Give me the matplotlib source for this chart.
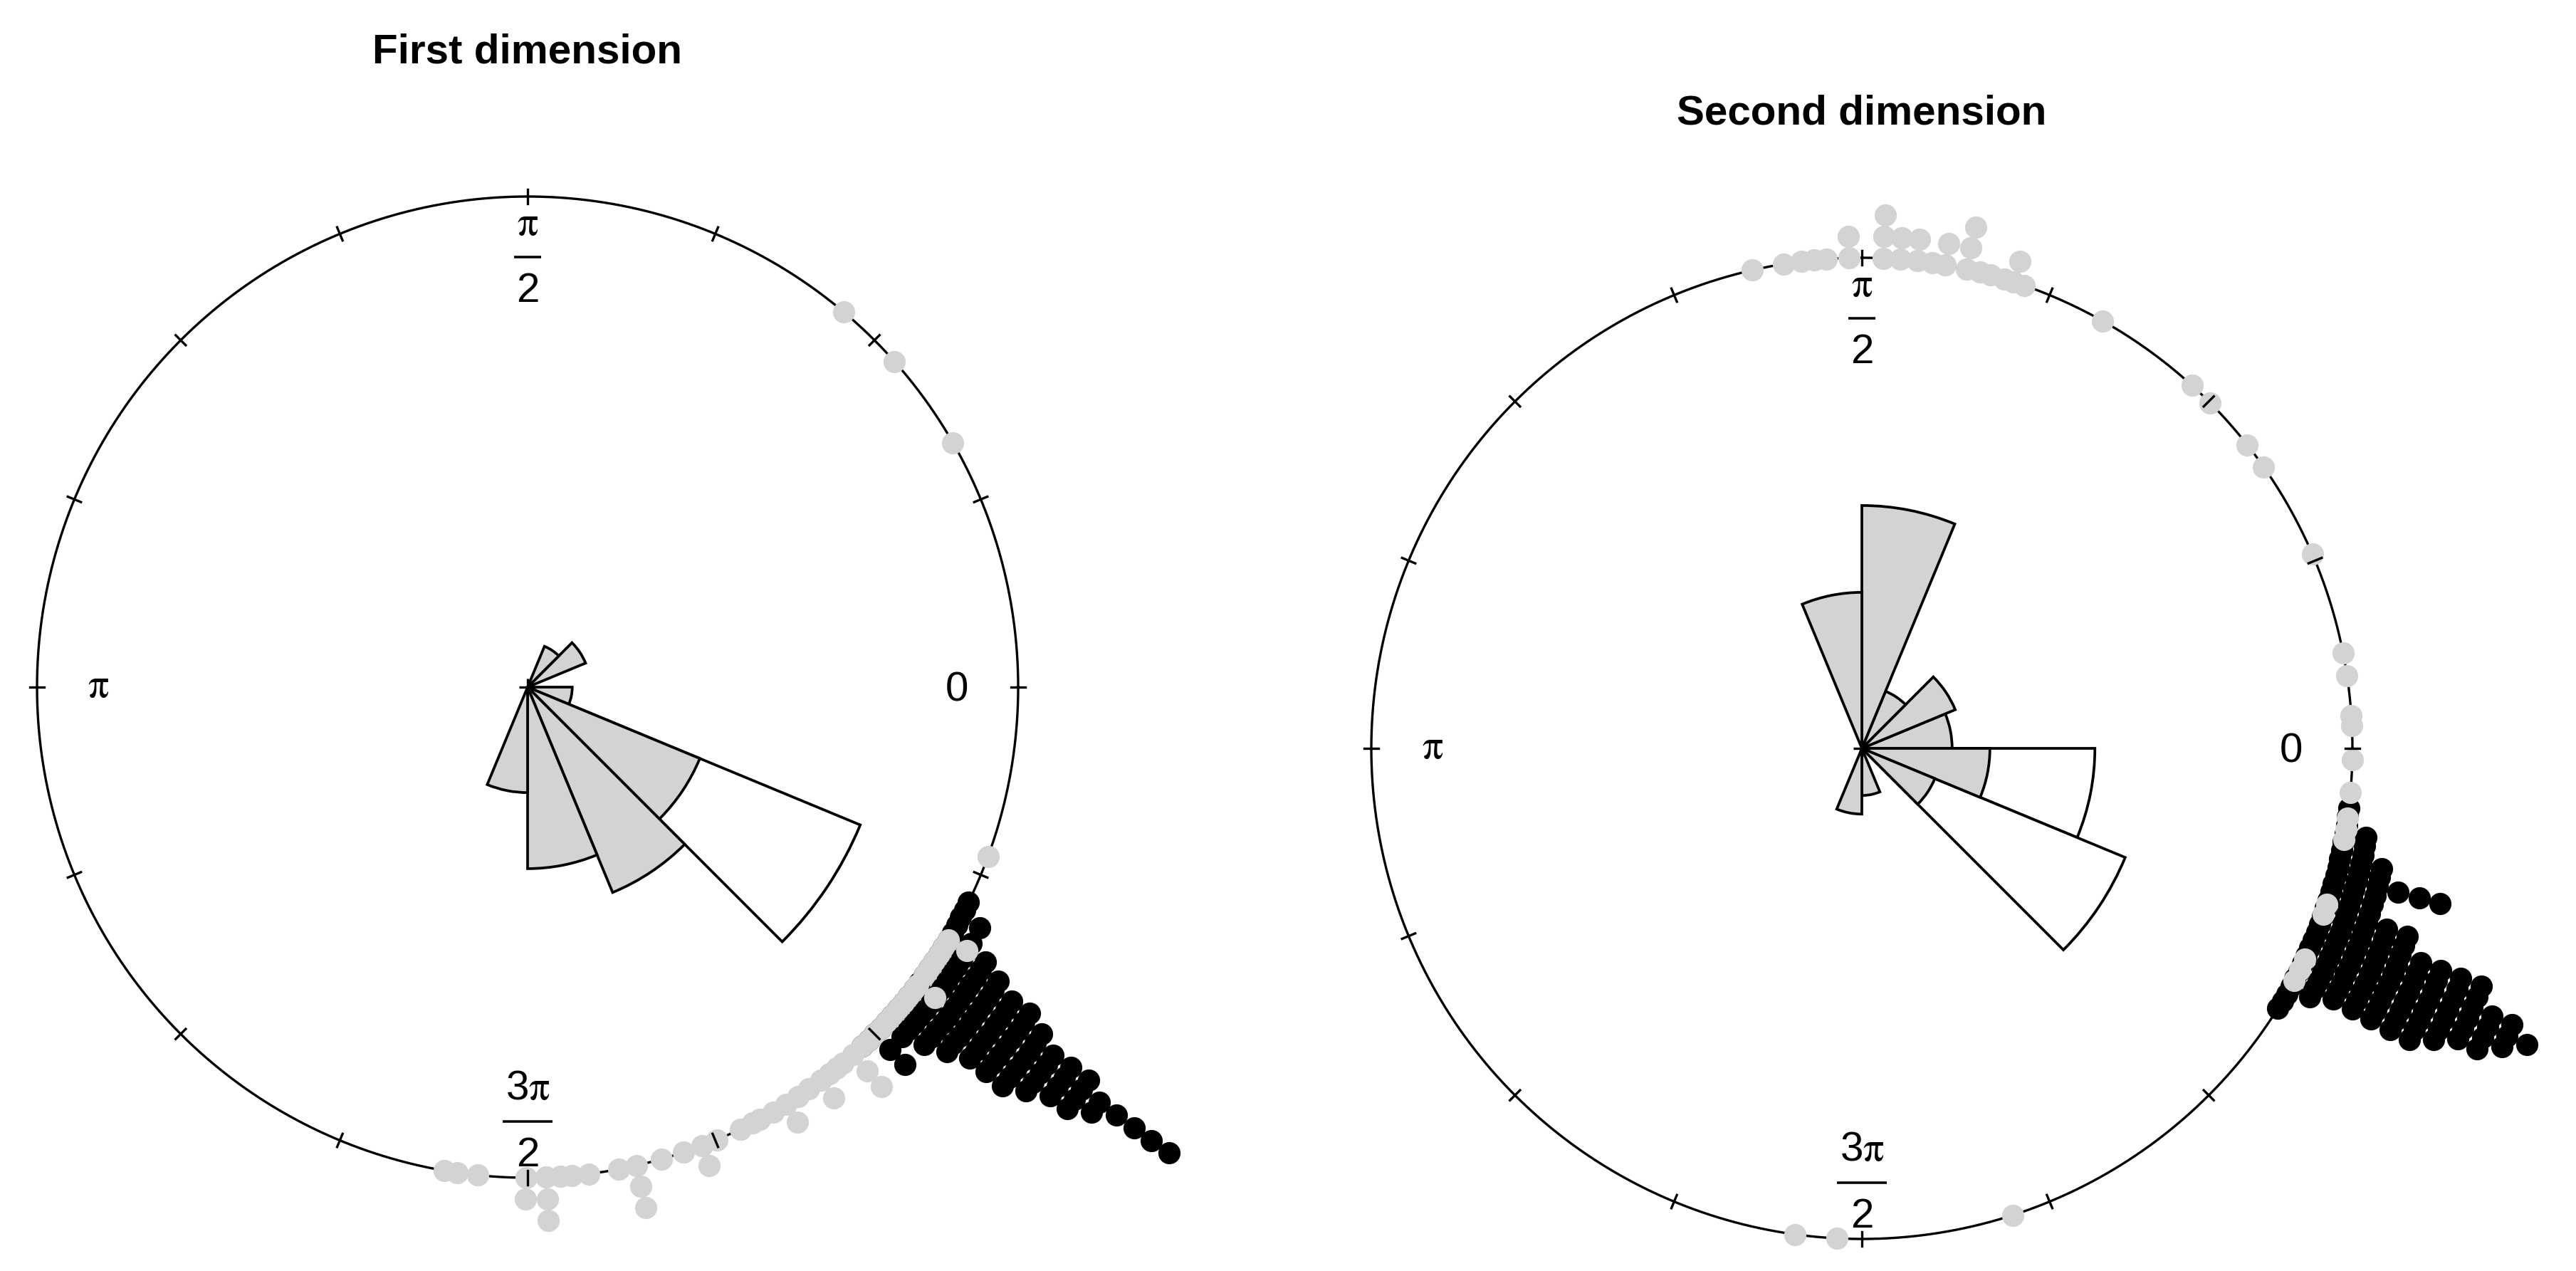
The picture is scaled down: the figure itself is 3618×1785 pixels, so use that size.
import numpy as np
import matplotlib.pyplot as plt
from matplotlib.patches import Wedge

plt.rcParams['font.family'] = ['Liberation Sans', 'DejaVu Sans']
plt.rcParams['mathtext.fontset'] = 'stix'

W, H, DPI = 3618, 1785, 300
R_PX = 689                      # circle radius in pixels
CENTERS = [(741, 965), (2615, 1051)]

titles = ["First dimension", "Second dimension"]

# rose diagrams: lower edge (deg) of each 22.5 degree sector and its radius
rose1_gray_start = [-22.5, -45, -67.5, -90, -112.5, 22.5, 45]
rose1_gray_r = [0.091, 0.380, 0.453, 0.370, 0.215, 0.128, 0.090]
rose1_white_start = [-45]
rose1_white_r = [0.734]

rose2_gray_start = [0, 22.5, 45, 67.5, 90, -22.5, -45, -90, -112.5]
rose2_gray_r = [0.184, 0.206, 0.126, 0.495, 0.318, 0.261, 0.161, 0.096, 0.134]
rose2_white_start = [-22.5, -45]
rose2_white_r = [0.475, 0.581]

# stacked points: angle (deg) and how many points are stacked there
black1_deg = [-26, -27, -28, -29, -30, -31, -32, -33, -34, -35, -36, -37,
              -38, -39, -40, -41, -42, -43, -44, -45, -46, -47]
black1_n = [1, 1, 2, 1, 2, 3, 4, 6, 7, 10, 15, 11, 10, 8, 7, 4, 3, 2, 1, 3, 1, 1]

gray1_deg = [49.9, 41.6, 29.9, -20.2, -31, -32, -33, -34, -35, -36, -37.3,
             -38, -39, -40, -41, -42, -43, -44, -45, -46, -47, -48.5, -50,
             -51, -52, -53.3, -55, -56.5, -58.2, -60, -61.8, -62.7, -64.3,
             -67.3, -69.2, -71.5, -74.2, -77.2, -79.3, -82.8, -84.8, -86.2,
             -87.8, -90.2, -95.8, -98.3, -99.8]
gray1_n = [1, 1, 1, 1, 2, 1, 1, 1, 1, 1, 2, 1, 1, 1, 1, 1, 1, 1, 1, 1, 1, 3,
           1, 1, 1, 2, 1, 1, 2, 1, 1, 1, 1, 1, 2, 1, 1, 3, 1, 1, 1, 1, 3, 2,
           1, 1, 1]

black2_deg = [-7, -8, -9, -10, -11, -12, -13, -14, -15, -16, -17, -18, -19,
              -20, -21, -22, -23, -24, -25, -26, -27, -28, -29, -30, -31, -32]
black2_n = [1, 1, 1, 2, 2, 2, 3, 3, 6, 3, 3, 3, 5, 5, 9, 9, 11, 12, 11, 10,
            8, 7, 2, 1, 1, 1]

gray2_deg = [102.9, 99.2, 97.1, 95.6, 94.2, 91.5, 87.5, 85.5, 83.5, 81.7,
             80.2, 77.7, 76.1, 74.8, 73.1, 72.0, 70.7, 60.6, 47.7, 44.8,
             38.2, 35.0, 23.3, 11.2, 8.5, 3.8, 2.7, -1.3, -5.2, -8.2, -9.5,
             -10.7, -18.5, -19.8, -25.4, -26.8, -28.2, -72.1, -92.9, -97.8]
gray2_n = [1, 1, 1, 1, 1, 2, 3, 2, 2, 1, 2, 3, 1, 1, 1, 2, 1, 1, 1, 1, 1, 1,
           1, 1, 1, 1, 1, 1, 1, 1, 1, 1, 1, 1, 1, 1, 1, 1, 1, 1]

axis_labels = ["0", r"$\mathrm{\pi}$", r"3$\mathrm{\pi}$"]

SEP = 0.044
DOT = 56
FS = 14
LGRAY = '#d3d3d3'
LW = 0.9


def stacked(ax, deg, n, color, z):
    xs, ys = [], []
    for a, c in zip(deg, n):
        t = np.deg2rad(a)
        for k in range(c):
            r = 1 + k * SEP
            xs.append(r * np.cos(t))
            ys.append(r * np.sin(t))
    ax.scatter(xs, ys, s=DOT, c=color, linewidths=0, zorder=z)


def rose(ax, start, radius, color, z):
    for s, r in zip(start, radius):
        ax.add_patch(Wedge((0, 0), r, s, s + 22.5, facecolor=color,
                           edgecolor='k', lw=LW, zorder=z))


def frac(ax, y, num, den, renderer):
    t = ax.text(0, y + 0.044, num, ha='center', va='baseline', fontsize=FS, zorder=6)
    ax.text(0, y - 0.092, den, ha='center', va='baseline', fontsize=FS, zorder=6)
    w = t.get_window_extent(renderer=renderer).width / 2 + 4
    w = w / R_PX
    ax.plot([-w, w], [y, y], color='k', lw=0.85, solid_capstyle='butt', zorder=6)


fig = plt.figure(figsize=(W / DPI, H / DPI), dpi=DPI)
renderer = fig.canvas.get_renderer()

panels = [
    (rose1_gray_start, rose1_gray_r, rose1_white_start, rose1_white_r,
     black1_deg, black1_n, gray1_deg, gray1_n),
    (rose2_gray_start, rose2_gray_r, rose2_white_start, rose2_white_r,
     black2_deg, black2_n, gray2_deg, gray2_n),
]

for i, (cx, cy) in enumerate(CENTERS):
    ax = fig.add_axes([0, 0, 1, 1])
    ax.set_xlim(-cx / R_PX, (W - cx) / R_PX)
    ax.set_ylim(-(H - cy) / R_PX, cy / R_PX)
    ax.axis('off')
    ax.patch.set_alpha(0)

    gs, gr, ws, wr, bd, bn, gd, gn = panels[i]

    th = np.linspace(0, 2 * np.pi, 721)
    ax.plot(np.cos(th), np.sin(th), color='k', lw=0.8, zorder=1)

    rose(ax, ws, wr, 'white', 2)
    rose(ax, gs, gr, LGRAY, 2.1)
    ax.plot([0], [0], marker='+', ms=5.8, mew=0.8, color='k', zorder=2.2)

    stacked(ax, bd, bn, 'black', 3)
    stacked(ax, gd, gn, LGRAY, 4)

    for a in np.arange(16) * 22.5:
        t = np.deg2rad(a)
        ax.plot([0.9855 * np.cos(t), 1.0145 * np.cos(t)],
                [0.9855 * np.sin(t), 1.0145 * np.sin(t)],
                color='k', lw=0.8, zorder=5)

    ax.text(0.875, -0.029, axis_labels[0], ha='center', va='baseline', fontsize=FS, zorder=6)
    ax.text(-0.875, -0.021, axis_labels[1], ha='center', va='baseline', fontsize=FS, zorder=6)
    frac(ax, 0.877, axis_labels[1], "2", renderer)
    frac(ax, -0.885, axis_labels[2], "2", renderer)

    ax.text(0, 1.272, titles[i], ha='center', va='baseline', fontsize=FS,
            fontweight='bold', zorder=6)

fig.savefig('out.png', dpi=DPI)
